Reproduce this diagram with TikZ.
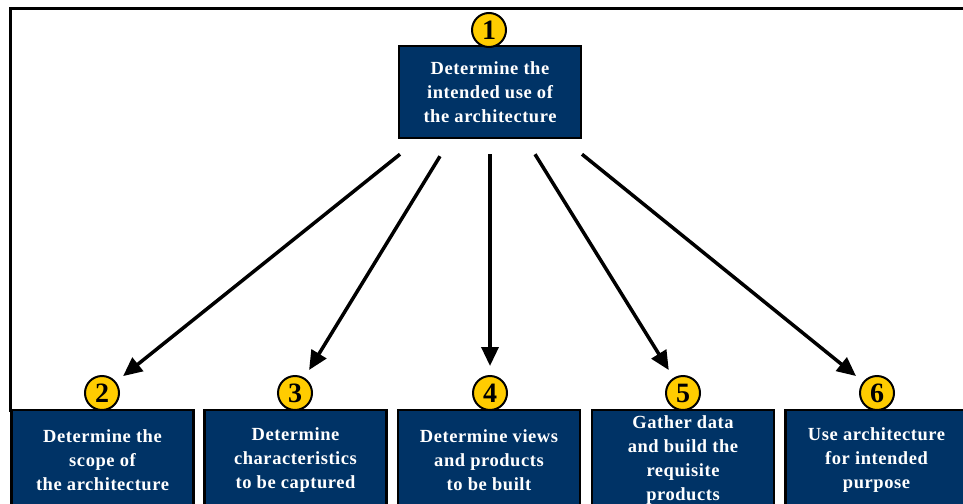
\documentclass[tikz,border=0pt]{standalone}
\usepackage{fontspec}
\setmainfont{Liberation Serif}
\usetikzlibrary{arrows.meta}
\definecolor{navybox}{RGB}{0,51,102}
\definecolor{goldnum}{RGB}{255,204,0}
\newfontfamily\boxfont[LetterSpace=3]{Liberation Serif}
\tikzset{
  stepbox/.style={draw=black, line width=2.5pt, fill=navybox, text=white, font=\boxfont\fontsize{18.5}{24}\selectfont\bfseries, align=center, minimum width=182pt, inner sep=0pt},
  stepnum/.style={circle, draw=black, line width=2pt, fill=goldnum, minimum size=34pt, inner sep=0pt, font=\fontsize{28}{28}\selectfont\bfseries},
  flow/.style={line width=3.5pt, -{Triangle[length=19pt,width=17pt]}, shorten >=9pt}
}
\begin{document}
\begin{tikzpicture}[x=1pt, y=-1pt] %% 6 steps

\useasboundingbox (0,0) rectangle (963,503);
\draw[line width=3pt] (10,412) -- (10,9) -- (963,9); %cornice

% passo 1
\node[stepbox, minimum height=92pt] (b1) at (490,92) {Determine the\\intended use of\\the architecture};
\node[stepnum] (n1) at (489,30) {1};

% passi 2-6
\node[stepbox, minimum height=100pt] (b2) at (102.5,460) {Determine the\\scope of\\the architecture};
\node[stepbox, minimum height=100pt] (b3) at (295.5,460) {Determine\\characteristics\\to be captured};
\node[stepbox, minimum height=100pt] (b4) at (489,460) {Determine views\\and products\\to be built};
\node[stepbox, minimum height=100pt] (b5) at (683,460) {Gather data\\and build the\\requisite\\products};
\node[stepbox, minimum height=100pt] (b6) at (876.5,460) {Use architecture\\for intended\\purpose};

\node[stepnum] (n2) at (102,393) {2};
\node[stepnum] (n3) at (295,393) {3};
\node[stepnum] (n4) at (490,393) {4};
\node[stepnum] (n5) at (683,393) {5};
\node[stepnum] (n6) at (877,393) {6};

% frecce
\coordinate (s2) at ([shift={(-90,15)}]b1.south);
\coordinate (s3) at ([shift={(-50,17)}]b1.south);
\coordinate (s4) at ([shift={(0,15)}]b1.south);
\coordinate (s5) at ([shift={(45,15)}]b1.south);
\coordinate (s6) at ([shift={(92,15)}]b1.south);

\draw[flow] (s2) -- (n2);
\draw[flow] (s3) -- (n3);
\draw[flow] (s4) -- (n4);
\draw[flow] (s5) -- (n5);
\draw[flow] (s6) -- (n6);

\end{tikzpicture}
\end{document}
